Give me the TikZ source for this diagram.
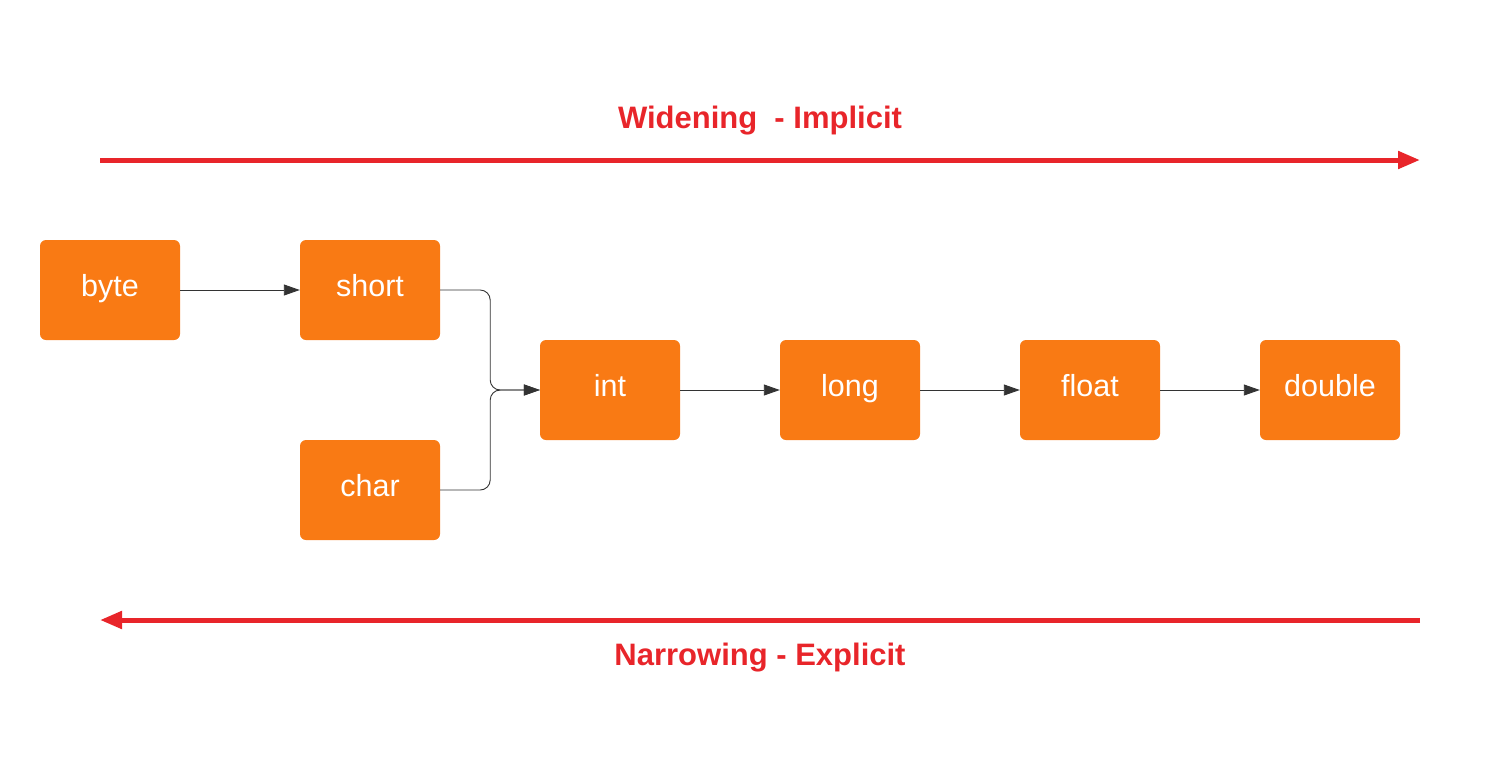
\documentclass[tikz,border=0pt]{standalone}
\usepackage{fontspec}
\setmainfont{Liberation Sans}
\usetikzlibrary{arrows.meta}
\definecolor{boxorange}{HTML}{F97A14}
\definecolor{arrred}{HTML}{E8252A}
\definecolor{lineg}{HTML}{333333}
\begin{document}
\begin{tikzpicture}[x=1pt,y=-1pt,
  tbox/.style={fill=boxorange,rounded corners=6pt,minimum width=140pt,minimum height=100pt,inner sep=0pt,text=white,text height=22pt,text depth=9pt,font=\fontsize{30.5}{34}\selectfont},
  conn/.style={draw=lineg,line width=0.9pt,-{Triangle[length=16pt,width=11pt]}},
  bigarr/.style={draw=arrred,line width=5pt,-{Triangle[length=22pt,width=17pt]}},
  lbl/.style={text=arrred,font=\bfseries\fontsize{31}{36}\selectfont}]
\useasboundingbox (0,0) rectangle (1500,756);
\node[tbox] (byte) at (110,290) {byte};
\node[tbox] (short) at (370,290) {short};
\node[tbox] (char) at (370,490) {char};
\node[tbox] (int) at (610,390) {int};
\node[tbox] (long) at (850,390) {long};
\node[tbox] (float) at (1090,390) {float};
\node[tbox] (double) at (1330,390) {double};
\draw[conn] (byte) -- (short);
\draw[conn,rounded corners=10pt] (short.east) -- ++(50,0) |- (int.west);
\draw[conn,rounded corners=10pt] (char.east) -- ++(50,0) |- (int.west);
\draw[conn] (int) -- (long);
\draw[conn] (long) -- (float);
\draw[conn] (float) -- (double);
\coordinate (t1) at (100,160);
\coordinate (t2) at (1420,160);
\coordinate (b1) at (1420,620);
\coordinate (b2) at (100,620);
\draw[bigarr] (t1) -- (t2);
\draw[bigarr] (b1) -- (b2);
\node[lbl] (wide) at (760,121) {Widening\ \ - Implicit};
\node[lbl] (narrow) at (760,658) {Narrowing - Explicit};
\end{tikzpicture}
\end{document}
